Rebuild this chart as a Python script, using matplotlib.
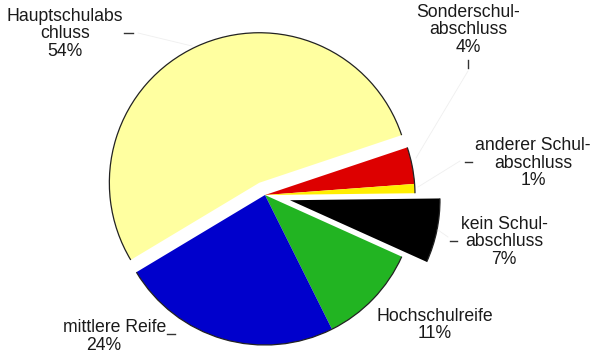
import matplotlib
matplotlib.use("Agg")
import matplotlib.pyplot as plt
from matplotlib.patches import Arc
import numpy as np

plt.rcParams['font.family'] = ['Liberation Sans', 'DejaVu Sans']

# Schulabschlüsse, im Uhrzeigersinn ab dem roten Segment
categories = ["Sonderschul-\nabschluss", "anderer Schul-\nabschluss", "kein Schul-\nabschluss",
              "Hochschulreife", "mittlere Reife", "Hauptschulabs\nchluss"]
shares = [4, 1, 7, 11, 24, 54]
colors = ["#dd0000", "#ffee00", "#000000", "#22b422", "#0000cc", "#ffffa0"]
explode = [0, 0, 0.17, 0, 0, 0.09]

W, H = 596, 355
CX, CY, R = 265, 195, 150  # pie centre and radius in pixels


def px(x, y):
    """Pixel position (origin top-left) -> data coordinates of the pie axes."""
    return (x - CX) / R, (CY - y) / R


fig = plt.figure(figsize=(W / 100, H / 100), dpi=100)
ax = fig.add_axes([0, 0, 1, 1])

wedges, _ = ax.pie(shares, colors=colors, explode=explode, startangle=18.5,
                   counterclock=False, radius=1.0,
                   wedgeprops=dict(linewidth=0, edgecolor='none'))

ax.set_xlim(-CX / R, (W - CX) / R)
ax.set_ylim(-(H - CY) / R, CY / R)
ax.set_aspect('equal', adjustable='box')
ax.axis('off')

# dark outline along the outer arc of every slice
for w in wedges:
    ax.add_patch(Arc(w.center, 2 * w.r, 2 * w.r, theta1=w.theta1, theta2=w.theta2,
                     color='#222222', lw=0.9))

fs = 12.7
tc = '#1a1a1a'
ls = 1.02


def label(text, x, y):
    ax.text(*px(x, y), text, ha='center', va='center', ma='center',
            fontsize=fs, color=tc, linespacing=ls)


label(f"{categories[5]}\n{shares[5]}%", 65, 34)
label(f"{categories[0]}\n{shares[0]}%", 468, 30)
label(f"{categories[1]}\n{shares[1]}%", 533, 163)
label(f"{categories[2]}\n{shares[2]}%", 504, 242)
label(f"{categories[3]}\n{shares[3]}%", 435, 325)
ax.text(*px(115, 328), categories[4], ha='center', va='center', fontsize=fs, color=tc)
ax.text(*px(104, 346), f"{shares[4]}%", ha='center', va='center', fontsize=fs, color=tc)

# faint leader lines with short dark ticks at the label end
leaders = [((138, 33), (192, 46)), ((468, 71), (416, 158)),
           ((460, 161), (418, 187)), ((448, 237), (438, 230))]
for (x0, y0), (x1, y1) in leaders:
    ax.plot(*zip(px(x0, y0), px(x1, y1)), color='#efefef', lw=0.6)

ticks = [((124, 33), (133, 33)), ((468, 60), (468, 68)),
         ((465, 162), (472, 162)), ((450, 241), (457, 241)), ((167, 334), (175, 334))]
for (x0, y0), (x1, y1) in ticks:
    ax.plot(*zip(px(x0, y0), px(x1, y1)), color='#333333', lw=1.0)

fig.savefig("out.png", dpi=100)
